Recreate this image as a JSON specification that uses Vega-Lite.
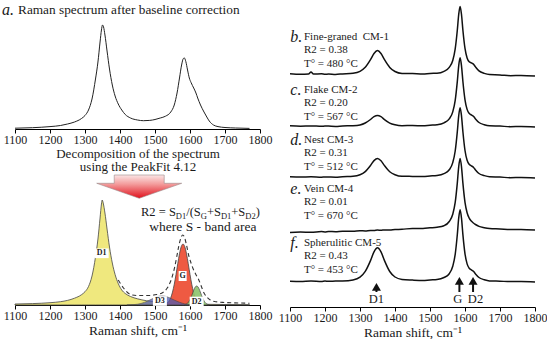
{
  "$schema": "https://vega.github.io/schema/vega-lite/v6.json",
  "padding": {"left": 2, "top": 2, "right": 0, "bottom": 0},
  "background": "white",
  "config": {
    "view": {"stroke": null},
    "font": "Liberation Serif",
    "text": {"font": "Liberation Serif", "color": "#1a1a1a"},
    "axis": {
      "domainColor": "#000", "tickColor": "#000", "labelColor": "#1a1a1a", "titleColor": "#1a1a1a",
      "labelFont": "Liberation Serif", "labelFontSize": 12, "titleFont": "Liberation Serif",
      "titleFontSize": 13.5, "titleFontWeight": "normal", "tickSize": 4, "labelPadding": 1,
      "grid": false, "labelOverlap": false, "labelFlush": false, "format": "d",
      "values": [1100, 1200, 1300, 1400, 1500, 1600, 1700, 1800]
    }
  },
  "datasets": {
    "topSpec": [
      {"x":1100,"h":0.8},{"x":1150,"h":1.3},{"x":1200,"h":2.4},{"x":1230,"h":3.5},{"x":1250,"h":5.0},{"x":1270,"h":7.0},{"x":1290,"h":10.5},{"x":1300,"h":13.5},{"x":1310,"h":19},{"x":1320,"h":30},{"x":1330,"h":50},{"x":1337,"h":67},{"x":1343,"h":87},{"x":1347,"h":99},{"x":1350,"h":104},{"x":1353,"h":102},{"x":1357,"h":94},{"x":1363,"h":78},{"x":1370,"h":60},{"x":1378,"h":44},{"x":1386,"h":33},{"x":1395,"h":25},{"x":1405,"h":19},{"x":1415,"h":14.5},{"x":1430,"h":11},{"x":1450,"h":9},{"x":1467,"h":8.3},{"x":1485,"h":8.6},{"x":1500,"h":9.5},{"x":1515,"h":11},{"x":1530,"h":12.8},{"x":1545,"h":17},{"x":1555,"h":24},{"x":1563,"h":36},{"x":1570,"h":51},{"x":1576,"h":64},{"x":1581,"h":70.5},{"x":1584,"h":71},{"x":1588,"h":67.5},{"x":1593,"h":59},{"x":1598,"h":51},{"x":1603,"h":46.5},{"x":1607,"h":43.5},{"x":1612,"h":40},{"x":1617,"h":36},{"x":1622,"h":31},{"x":1630,"h":24},{"x":1640,"h":17},{"x":1648,"h":12},{"x":1655,"h":8},{"x":1667,"h":4},{"x":1680,"h":2.4},{"x":1700,"h":1.5},{"x":1730,"h":1.0},{"x":1770,"h":0.6}
    ],
    "envelope": [
      {"x":1395,"h":25},{"x":1410,"h":17},{"x":1430,"h":10.5},{"x":1450,"h":9.5},{"x":1480,"h":9.5},{"x":1505,"h":10.5},{"x":1520,"h":12},{"x":1535,"h":17},{"x":1545,"h":24},{"x":1555,"h":36},{"x":1562,"h":48},{"x":1568,"h":59},{"x":1574,"h":67},{"x":1579,"h":70},{"x":1584,"h":68},{"x":1590,"h":60},{"x":1596,"h":50},{"x":1602,"h":43},{"x":1608,"h":37},{"x":1616,"h":31},{"x":1624,"h":26},{"x":1632,"h":19},{"x":1640,"h":12},{"x":1648,"h":8},{"x":1658,"h":5},{"x":1670,"h":3.5},{"x":1700,"h":2.5},{"x":1740,"h":2},{"x":1770,"h":1.8}
    ],
    "bandD1": [
      {"x":1100,"h":1.0},{"x":1150,"h":1.4},{"x":1200,"h":2.3},{"x":1230,"h":3.3},{"x":1250,"h":4.6},{"x":1270,"h":6.8},{"x":1290,"h":10.3},{"x":1300,"h":13.3},{"x":1310,"h":18.5},{"x":1320,"h":29},{"x":1330,"h":48},{"x":1337,"h":66},{"x":1343,"h":87},{"x":1347,"h":101},{"x":1349,"h":105},{"x":1352,"h":102},{"x":1357,"h":92},{"x":1363,"h":76},{"x":1370,"h":58},{"x":1378,"h":42},{"x":1386,"h":30.5},{"x":1395,"h":21.5},{"x":1405,"h":15},{"x":1415,"h":11.5},{"x":1430,"h":8.5},{"x":1450,"h":6.2},{"x":1475,"h":4.3},{"x":1500,"h":3.1},{"x":1530,"h":2.2},{"x":1560,"h":1.6},{"x":1600,"h":1.1},{"x":1650,"h":0.7},{"x":1700,"h":0.5},{"x":1770,"h":0.3}
    ],
    "bandG": [
      {"x":1520,"h":0.1},{"x":1530,"h":0.8},{"x":1540,"h":3.8},{"x":1545,"h":7.3},{"x":1550,"h":12.9},{"x":1555,"h":20.7},{"x":1560,"h":30.5},{"x":1565,"h":41.3},{"x":1570,"h":51.3},{"x":1575,"h":58.4},{"x":1580,"h":61},{"x":1585,"h":58.4},{"x":1590,"h":51.3},{"x":1595,"h":41.3},{"x":1600,"h":30.5},{"x":1605,"h":20.7},{"x":1610,"h":12.9},{"x":1615,"h":7.3},{"x":1620,"h":3.8},{"x":1630,"h":0.8},{"x":1640,"h":0.1}
    ],
    "bandD2": [
      {"x":1585,"h":0.4},{"x":1590,"h":1.0},{"x":1595,"h":2.6},{"x":1600,"h":5.4},{"x":1605,"h":9.6},{"x":1610,"h":14.3},{"x":1615,"h":18},{"x":1619,"h":19},{"x":1623,"h":18},{"x":1628,"h":14.3},{"x":1633,"h":9.6},{"x":1638,"h":5.4},{"x":1643,"h":2.6},{"x":1648,"h":1.0},{"x":1655,"h":0.2}
    ],
    "bandD3": [
      {"x":1420,"h":0.1},{"x":1440,"h":0.4},{"x":1460,"h":1.5},{"x":1480,"h":4.1},{"x":1500,"h":7.4},{"x":1510,"h":8.6},{"x":1520,"h":9},{"x":1530,"h":8.6},{"x":1540,"h":7.4},{"x":1555,"h":4.9},{"x":1570,"h":2.7},{"x":1585,"h":1.1},{"x":1600,"h":0.4},{"x":1620,"h":0.1}
    ],
    "spectra": [
      {"s":"b","x":1100,"h":233.3},{"s":"b","x":1130,"h":232.8},{"s":"b","x":1153,"h":233.1},{"s":"b","x":1160,"h":235.0},{"s":"b","x":1167,"h":233.0},{"s":"b","x":1190,"h":233.2},{"s":"b","x":1200,"h":232.7},{"s":"b","x":1210,"h":233.0},{"s":"b","x":1230,"h":232.6},{"s":"b","x":1250,"h":233.1},{"s":"b","x":1280,"h":233.8},{"s":"b","x":1300,"h":235.7},{"s":"b","x":1315,"h":239.7},{"s":"b","x":1330,"h":247.3},{"s":"b","x":1340,"h":253.5},{"s":"b","x":1350,"h":256.4},{"s":"b","x":1360,"h":253.5},{"s":"b","x":1370,"h":247.3},{"s":"b","x":1385,"h":239.6},{"s":"b","x":1400,"h":235.5},{"s":"b","x":1420,"h":233.6},{"s":"b","x":1450,"h":233.4},{"s":"b","x":1480,"h":232.9},{"s":"b","x":1500,"h":233.6},{"s":"b","x":1520,"h":233.8},{"s":"b","x":1540,"h":235.7},{"s":"b","x":1555,"h":239.7},{"s":"b","x":1565,"h":246.5},{"s":"b","x":1572,"h":258.1},{"s":"b","x":1578,"h":276.7},{"s":"b","x":1582,"h":292.5},{"s":"b","x":1586,"h":300.6},{"s":"b","x":1590,"h":292.5},{"s":"b","x":1594,"h":276.8},{"s":"b","x":1600,"h":258.6},{"s":"b","x":1606,"h":249.1},{"s":"b","x":1612,"h":245.3},{"s":"b","x":1618,"h":244.2},{"s":"b","x":1624,"h":242.9},{"s":"b","x":1630,"h":240.1},{"s":"b","x":1640,"h":236.1},{"s":"b","x":1655,"h":233.6},{"s":"b","x":1670,"h":232.4},{"s":"b","x":1700,"h":232.1},{"s":"b","x":1730,"h":231.3},{"s":"b","x":1760,"h":231.6},{"s":"b","x":1800,"h":231.0},
      {"s":"c","x":1100,"h":181.2},{"s":"c","x":1130,"h":180.8},{"s":"c","x":1160,"h":181.1},{"s":"c","x":1190,"h":180.7},{"s":"c","x":1200,"h":181.0},{"s":"c","x":1210,"h":180.9},{"s":"c","x":1230,"h":180.6},{"s":"c","x":1250,"h":181.0},{"s":"c","x":1280,"h":181.3},{"s":"c","x":1300,"h":182.1},{"s":"c","x":1315,"h":184.0},{"s":"c","x":1330,"h":187.5},{"s":"c","x":1340,"h":190.4},{"s":"c","x":1350,"h":191.6},{"s":"c","x":1360,"h":190.3},{"s":"c","x":1370,"h":187.4},{"s":"c","x":1385,"h":183.9},{"s":"c","x":1400,"h":182.2},{"s":"c","x":1420,"h":181.3},{"s":"c","x":1450,"h":181.5},{"s":"c","x":1480,"h":181.2},{"s":"c","x":1500,"h":181.8},{"s":"c","x":1520,"h":182.3},{"s":"c","x":1540,"h":184.2},{"s":"c","x":1555,"h":188.1},{"s":"c","x":1565,"h":195.1},{"s":"c","x":1572,"h":206.7},{"s":"c","x":1578,"h":225.4},{"s":"c","x":1582,"h":241.2},{"s":"c","x":1586,"h":249.3},{"s":"c","x":1590,"h":241.2},{"s":"c","x":1594,"h":225.5},{"s":"c","x":1600,"h":207.2},{"s":"c","x":1606,"h":197.6},{"s":"c","x":1612,"h":193.6},{"s":"c","x":1618,"h":192.1},{"s":"c","x":1624,"h":190.7},{"s":"c","x":1630,"h":188.1},{"s":"c","x":1640,"h":184.5},{"s":"c","x":1655,"h":182.3},{"s":"c","x":1670,"h":181.2},{"s":"c","x":1700,"h":180.9},{"s":"c","x":1730,"h":180.3},{"s":"c","x":1760,"h":180.5},{"s":"c","x":1800,"h":180.1},
      {"s":"d","x":1100,"h":130.3},{"s":"d","x":1130,"h":129.9},{"s":"d","x":1160,"h":130.2},{"s":"d","x":1190,"h":129.8},{"s":"d","x":1200,"h":130.1},{"s":"d","x":1210,"h":130.0},{"s":"d","x":1230,"h":129.8},{"s":"d","x":1250,"h":130.3},{"s":"d","x":1280,"h":130.7},{"s":"d","x":1300,"h":132.2},{"s":"d","x":1315,"h":135.4},{"s":"d","x":1330,"h":141.5},{"s":"d","x":1340,"h":146.4},{"s":"d","x":1350,"h":148.6},{"s":"d","x":1360,"h":146.3},{"s":"d","x":1370,"h":141.4},{"s":"d","x":1385,"h":135.3},{"s":"d","x":1400,"h":132.3},{"s":"d","x":1420,"h":130.7},{"s":"d","x":1450,"h":130.6},{"s":"d","x":1480,"h":130.5},{"s":"d","x":1500,"h":131.0},{"s":"d","x":1520,"h":131.5},{"s":"d","x":1540,"h":133.4},{"s":"d","x":1555,"h":137.2},{"s":"d","x":1565,"h":144.4},{"s":"d","x":1572,"h":156.0},{"s":"d","x":1578,"h":175.1},{"s":"d","x":1582,"h":191.1},{"s":"d","x":1586,"h":199.3},{"s":"d","x":1590,"h":191.1},{"s":"d","x":1594,"h":175.2},{"s":"d","x":1600,"h":156.5},{"s":"d","x":1606,"h":146.8},{"s":"d","x":1612,"h":142.7},{"s":"d","x":1618,"h":141.2},{"s":"d","x":1624,"h":139.8},{"s":"d","x":1630,"h":137.1},{"s":"d","x":1640,"h":133.5},{"s":"d","x":1655,"h":131.4},{"s":"d","x":1670,"h":130.2},{"s":"d","x":1700,"h":129.9},{"s":"d","x":1730,"h":129.3},{"s":"d","x":1760,"h":129.5},{"s":"d","x":1800,"h":129.1},
      {"s":"e","x":1100,"h":74.5},{"s":"e","x":1130,"h":74.9},{"s":"e","x":1160,"h":74.8},{"s":"e","x":1190,"h":75.4},{"s":"e","x":1200,"h":75.1},{"s":"e","x":1210,"h":75.5},{"s":"e","x":1230,"h":75.3},{"s":"e","x":1250,"h":75.8},{"s":"e","x":1280,"h":75.7},{"s":"e","x":1300,"h":76.2},{"s":"e","x":1315,"h":76.1},{"s":"e","x":1330,"h":76.6},{"s":"e","x":1340,"h":76.4},{"s":"e","x":1350,"h":76.9},{"s":"e","x":1360,"h":76.7},{"s":"e","x":1370,"h":77.1},{"s":"e","x":1385,"h":77.0},{"s":"e","x":1400,"h":77.5},{"s":"e","x":1420,"h":77.7},{"s":"e","x":1450,"h":78.6},{"s":"e","x":1480,"h":78.6},{"s":"e","x":1500,"h":79.2},{"s":"e","x":1520,"h":79.8},{"s":"e","x":1540,"h":81.3},{"s":"e","x":1555,"h":85.5},{"s":"e","x":1565,"h":92.8},{"s":"e","x":1572,"h":104.6},{"s":"e","x":1578,"h":123.9},{"s":"e","x":1582,"h":140.2},{"s":"e","x":1586,"h":148.5},{"s":"e","x":1590,"h":140.2},{"s":"e","x":1594,"h":123.9},{"s":"e","x":1600,"h":104.7},{"s":"e","x":1606,"h":94.3},{"s":"e","x":1612,"h":88.9},{"s":"e","x":1618,"h":85.9},{"s":"e","x":1624,"h":84.0},{"s":"e","x":1630,"h":82.5},{"s":"e","x":1640,"h":80.6},{"s":"e","x":1655,"h":79.3},{"s":"e","x":1670,"h":78.5},{"s":"e","x":1700,"h":78.1},{"s":"e","x":1730,"h":77.5},{"s":"e","x":1760,"h":77.6},{"s":"e","x":1800,"h":77.1},
      {"s":"f","x":1100,"h":25.7},{"s":"f","x":1130,"h":25.4},{"s":"f","x":1160,"h":25.9},{"s":"f","x":1190,"h":25.5},{"s":"f","x":1200,"h":25.9},{"s":"f","x":1210,"h":25.7},{"s":"f","x":1230,"h":26.0},{"s":"f","x":1250,"h":26.1},{"s":"f","x":1280,"h":27.1},{"s":"f","x":1300,"h":29.8},{"s":"f","x":1315,"h":35.6},{"s":"f","x":1330,"h":46.4},{"s":"f","x":1340,"h":55.2},{"s":"f","x":1350,"h":59.3},{"s":"f","x":1360,"h":55.2},{"s":"f","x":1370,"h":46.4},{"s":"f","x":1385,"h":35.5},{"s":"f","x":1400,"h":30.0},{"s":"f","x":1420,"h":27.6},{"s":"f","x":1450,"h":26.9},{"s":"f","x":1480,"h":26.5},{"s":"f","x":1500,"h":27.1},{"s":"f","x":1520,"h":27.5},{"s":"f","x":1540,"h":29.5},{"s":"f","x":1555,"h":33.3},{"s":"f","x":1565,"h":40.7},{"s":"f","x":1572,"h":52.7},{"s":"f","x":1578,"h":72.3},{"s":"f","x":1582,"h":88.8},{"s":"f","x":1586,"h":97.2},{"s":"f","x":1590,"h":88.8},{"s":"f","x":1594,"h":72.4},{"s":"f","x":1600,"h":53.2},{"s":"f","x":1606,"h":43.1},{"s":"f","x":1612,"h":38.8},{"s":"f","x":1618,"h":37.2},{"s":"f","x":1624,"h":35.7},{"s":"f","x":1630,"h":33.1},{"s":"f","x":1640,"h":29.5},{"s":"f","x":1655,"h":27.3},{"s":"f","x":1670,"h":26.1},{"s":"f","x":1700,"h":25.8},{"s":"f","x":1730,"h":25.4},{"s":"f","x":1760,"h":25.4},{"s":"f","x":1800,"h":25.1}
    ],
    "letters": [
      {"x":1101,"h":270,"t":"b."},{"x":1101,"h":217,"t":"c."},{"x":1101,"h":167,"t":"d."},{"x":1101,"h":118,"t":"e."},{"x":1101,"h":64,"t":"f."}
    ],
    "sampleText": [
      {"x":1140,"h":270,"t":"Fine-graned\u00a0 CM-1"},{"x":1140,"h":257,"t":"R2 = 0.38"},{"x":1140,"h":243,"t":"T° = 480 °C"},
      {"x":1140,"h":217,"t":"Flake CM-2"},{"x":1140,"h":204,"t":"R2 = 0.20"},{"x":1140,"h":190.5,"t":"T° = 567 °C"},
      {"x":1140,"h":167,"t":"Nest CM-3"},{"x":1140,"h":154,"t":"R2 = 0.31"},{"x":1140,"h":140.5,"t":"T° = 512 °C"},
      {"x":1140,"h":118,"t":"Vein CM-4"},{"x":1140,"h":105,"t":"R2 = 0.01"},{"x":1140,"h":91.5,"t":"T° = 670 °C"},
      {"x":1140,"h":64,"t":"Spherulitic CM-5"},{"x":1140,"h":51,"t":"R2 = 0.43"},{"x":1140,"h":37,"t":"T° = 453 °C"}
    ],
    "arrows": [
      {"x":1347,"lx":1347,"lo":15,"hi":20,"head":20.1,"t":"D1"},
      {"x":1584,"lx":1579,"lo":15,"hi":26,"head":26.1,"t":"G"},
      {"x":1623,"lx":1630,"lo":15,"hi":26,"head":26.1,"t":"D2"}
    ]
  },
  "hconcat": [
    {
      "vconcat": [
        {
          "width": 245, "height": 127,
          "layer": [
            {
              "data": {"name": "topSpec"},
              "mark": {"type": "line", "interpolate": "monotone", "color": "#222", "strokeWidth": 1},
              "encoding": {
                "x": {"field": "x", "type": "quantitative", "scale": {"domain": [1100, 1800], "nice": false, "zero": false},
                      "axis": {"title": ["Decomposition of the spectrum", "using the PeakFit 4.12"], "titleFontSize": 13, "titleLineHeight": 13.5, "titlePadding": 2}},
                "y": {"field": "h", "type": "quantitative", "scale": {"domain": [0, 127], "nice": false, "zero": false}, "axis": null}
              }
            },
            {
              "data": {"values": [{"x": 1062.9, "h": 119, "t": "a."}]},
              "mark": {"type": "text", "align": "left", "baseline": "middle", "fontStyle": "italic", "fontSize": 16},
              "encoding": {"x": {"field": "x", "type": "quantitative"}, "y": {"field": "h", "type": "quantitative"}, "text": {"field": "t"}}
            },
            {
              "data": {"values": [{"x": 1108.6, "h": 119, "t": "Raman spectrum after baseline correction"}]},
              "mark": {"type": "text", "align": "left", "baseline": "middle", "fontSize": 13.3},
              "encoding": {"x": {"field": "x", "type": "quantitative"}, "y": {"field": "h", "type": "quantitative"}, "text": {"field": "t"}}
            }
          ]
        },
        {
          "width": 245, "height": 130,
          "layer": [
            {
              "data": {"name": "bandD1"},
              "mark": {"type": "area", "interpolate": "monotone", "color": "#EFE87E", "stroke": "#444", "strokeWidth": 0.8},
              "encoding": {
                "x": {"field": "x", "type": "quantitative", "scale": {"domain": [1100, 1800], "nice": false, "zero": false},
                      "axis": {"title": "Raman shift, cm⁻¹", "titlePadding": 2}},
                "y": {"field": "h", "type": "quantitative", "scale": {"domain": [0, 130], "nice": false, "zero": false}, "axis": null}
              }
            },
            {
              "data": {"name": "bandG"},
              "mark": {"type": "area", "interpolate": "monotone", "color": "#EE5A42", "stroke": "#444", "strokeWidth": 0.8},
              "encoding": {"x": {"field": "x", "type": "quantitative"}, "y": {"field": "h", "type": "quantitative"}}
            },
            {
              "data": {"name": "bandD2"},
              "mark": {"type": "area", "interpolate": "monotone", "color": "#8CC46C", "opacity": 0.9, "stroke": "#444", "strokeWidth": 0.8},
              "encoding": {"x": {"field": "x", "type": "quantitative"}, "y": {"field": "h", "type": "quantitative"}}
            },
            {
              "data": {"name": "bandD3"},
              "mark": {"type": "area", "interpolate": "monotone", "color": "#4F5AB0", "opacity": 0.75, "stroke": "#444", "strokeWidth": 0.8},
              "encoding": {"x": {"field": "x", "type": "quantitative"}, "y": {"field": "h", "type": "quantitative"}}
            },
            {
              "data": {"name": "envelope"},
              "mark": {"type": "line", "interpolate": "monotone", "color": "#333", "strokeWidth": 1.1, "strokeDash": [4, 3]},
              "encoding": {"x": {"field": "x", "type": "quantitative"}, "y": {"field": "h", "type": "quantitative"}}
            },
            {
              "data": {"values": [{"x": 1347.6, "h": 51.7}, {"x": 1514, "h": 4}, {"x": 1619, "h": 3.5}]},
              "mark": {"type": "point", "shape": "M-1,-0.69L1,-0.69L1,0.69L-1,0.69Z", "size": 196, "filled": true, "color": "white", "opacity": 1},
              "encoding": {"x": {"field": "x", "type": "quantitative"}, "y": {"field": "h", "type": "quantitative"}}
            },
            {
              "data": {"values": [{"x": 1579, "h": 29}]},
              "mark": {"type": "point", "shape": "M-0.8,-1L0.8,-1L0.8,1L-0.8,1Z", "size": 100, "filled": true, "color": "white", "opacity": 1},
              "encoding": {"x": {"field": "x", "type": "quantitative"}, "y": {"field": "h", "type": "quantitative"}}
            },
            {
              "data": {"values": [{"x": 1347.6, "h": 51.7, "t": "D1"}, {"x": 1579, "h": 29, "t": "G"}, {"x": 1514, "h": 4, "t": "D3"}, {"x": 1619, "h": 3.5, "t": "D2"}]},
              "mark": {"type": "text", "align": "center", "baseline": "middle", "fontSize": 8, "fontWeight": "bold", "color": "#222"},
              "encoding": {"x": {"field": "x", "type": "quantitative"}, "y": {"field": "h", "type": "quantitative"}, "text": {"field": "t"}}
            },
            {
              "data": {"values": [{"x": 1454.9, "h": 118.35}]},
              "mark": {"type": "point", "shape": "M-0.588,-0.274L0.588,-0.274L0.588,-0.079L1,-0.079L0,0.274L-1,-0.079L-0.588,-0.079Z",
                       "size": 7225, "filled": true, "opacity": 1, "stroke": "#9a8a8a", "strokeWidth": 0.6,
                       "color": {"gradient": "linear", "x1": 0, "y1": 0, "x2": 0, "y2": 1,
                                 "stops": [{"offset": 0, "color": "#FBE6E6"}, {"offset": 0.4, "color": "#F39A9A"}, {"offset": 1, "color": "#E0101C"}]}},
              "encoding": {"x": {"field": "x", "type": "quantitative"}, "y": {"field": "h", "type": "quantitative"}}
            },
            {
              "data": {"values": [{"x": 1460, "h": 93, "t": "R2 = S"}, {"x": 1589.1, "h": 93, "t": "/(S"}, {"x": 1648.3, "h": 93, "t": "+S"}, {"x": 1718, "h": 93, "t": "+S"}, {"x": 1787.7, "h": 93, "t": ")"}]},
              "mark": {"type": "text", "align": "left", "baseline": "middle", "fontSize": 12.5},
              "encoding": {"x": {"field": "x", "type": "quantitative"}, "y": {"field": "h", "type": "quantitative"}, "text": {"field": "t"}}
            },
            {
              "data": {"values": [{"x": 1559.4, "h": 89.5, "t": "D1"}, {"x": 1630.9, "h": 89.5, "t": "G"}, {"x": 1688.3, "h": 89.5, "t": "D1"}, {"x": 1758, "h": 89.5, "t": "D2"}]},
              "mark": {"type": "text", "align": "left", "baseline": "middle", "fontSize": 8.5},
              "encoding": {"x": {"field": "x", "type": "quantitative"}, "y": {"field": "h", "type": "quantitative"}, "text": {"field": "t"}}
            },
            {
              "data": {"values": [{"x": 1637, "h": 77.7, "t": "where S - band area"}]},
              "mark": {"type": "text", "align": "center", "baseline": "middle", "fontSize": 13.5},
              "encoding": {"x": {"field": "x", "type": "quantitative"}, "y": {"field": "h", "type": "quantitative"}, "text": {"field": "t"}}
            }
          ]
        }
      ],
      "spacing": 46,
      "bounds": "flush"
    },
    {
      "width": 245, "height": 305,
      "layer": [
        {
          "data": {"name": "spectra"},
          "mark": {"type": "line", "interpolate": "monotone", "color": "#111", "strokeWidth": 1.5},
          "encoding": {
            "x": {"field": "x", "type": "quantitative", "scale": {"domain": [1100, 1800], "nice": false, "zero": false},
                  "axis": {"title": "Raman shift, cm⁻¹", "titlePadding": 2}},
            "y": {"field": "h", "type": "quantitative", "scale": {"domain": [0, 305], "nice": false, "zero": false}, "axis": null},
            "detail": {"field": "s"}
          }
        },
        {
          "data": {"name": "letters"},
          "mark": {"type": "text", "align": "left", "baseline": "middle", "fontStyle": "italic", "fontSize": 16},
          "encoding": {"x": {"field": "x", "type": "quantitative"}, "y": {"field": "h", "type": "quantitative"}, "text": {"field": "t"}}
        },
        {
          "data": {"name": "sampleText"},
          "mark": {"type": "text", "align": "left", "baseline": "middle", "fontSize": 11},
          "encoding": {"x": {"field": "x", "type": "quantitative"}, "y": {"field": "h", "type": "quantitative"}, "text": {"field": "t"}}
        },
        {
          "data": {"name": "arrows"},
          "mark": {"type": "rule", "color": "#111", "strokeWidth": 2},
          "encoding": {"x": {"field": "x", "type": "quantitative"}, "y": {"field": "lo", "type": "quantitative"}, "y2": {"field": "hi"}}
        },
        {
          "data": {"name": "arrows"},
          "mark": {"type": "point", "shape": "triangle-up", "size": 81, "filled": true, "color": "#111", "opacity": 1},
          "encoding": {"x": {"field": "x", "type": "quantitative"}, "y": {"field": "head", "type": "quantitative"}}
        },
        {
          "data": {"name": "arrows"},
          "mark": {"type": "text", "align": "center", "baseline": "middle", "fontSize": 12.5},
          "encoding": {"x": {"field": "lx", "type": "quantitative"}, "y": {"datum": 8, "type": "quantitative"}, "text": {"field": "t"}}
        }
      ]
    }
  ],
  "spacing": 6,
  "bounds": "full"
}
